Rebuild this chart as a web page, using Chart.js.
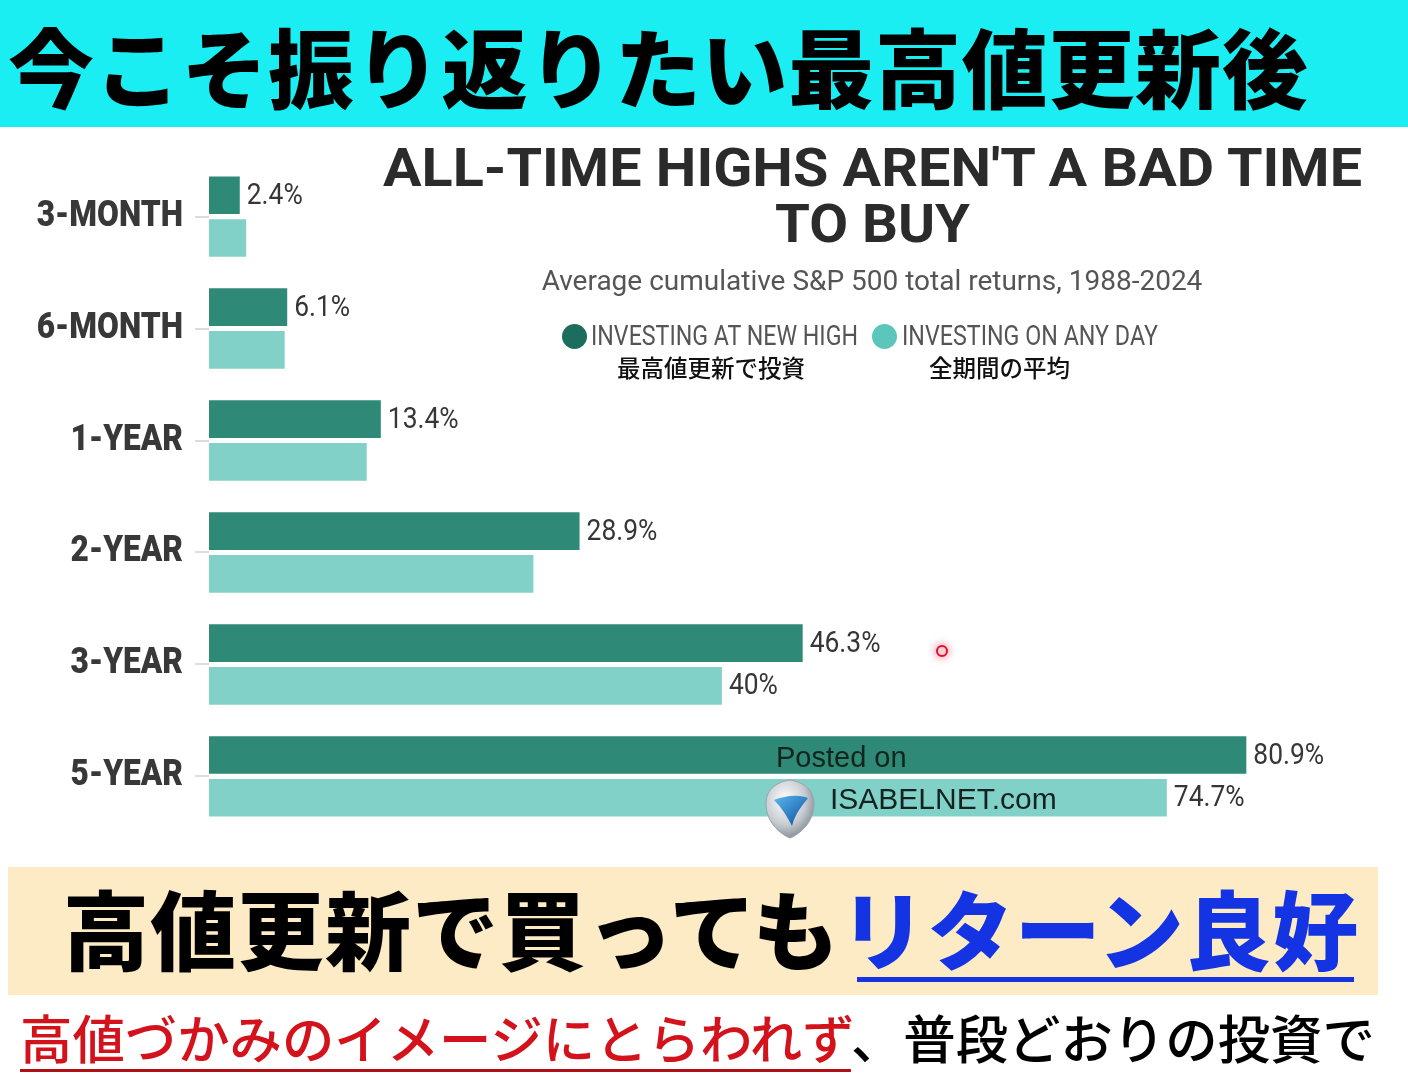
<!DOCTYPE html>
<html lang="ja">
<head>
<meta charset="utf-8">
<script src="https://cdn.jsdelivr.net/npm/chart.js@4.4.1/dist/chart.umd.min.js"></script>
<style>
  html, body { margin:0; padding:0; background:#ffffff; }
  body { width:1408px; height:1080px; position:relative; overflow:hidden; font-family:"Noto Sans CJK JP", sans-serif; }
  #topband { position:absolute; left:0; top:0; width:1408px; height:127px; background:#1aeef2; }
  #topband span { position:absolute; left:8px; top:10px; font-size:86px; font-weight:900; color:#000; line-height:110px; white-space:nowrap; letter-spacing:0.7px; }
  #chartwrap { position:absolute; left:0; top:127px; width:1408px; height:739px; }
  .ov { position:absolute; white-space:nowrap; }
  .fit { display:inline-block; transform-origin:0 50%; }
  .tline { font-family:Roboto,sans-serif; font-weight:700; font-size:53px; line-height:56px; color:#2b2b2b; }
  #subtitle { left:372px; width:1000px; top:264px; text-align:center; font-family:Roboto,sans-serif; font-size:28px; color:#555; }
  .leg { top:318px; font-family:Roboto,sans-serif; font-size:28px; color:#555; line-height:36px; }
  .dot { position:absolute; top:6px; width:25px; height:25px; border-radius:50%; }
  .jp { font-family:"Noto Sans CJK JP",sans-serif; font-weight:500; font-size:23.5px; color:#111; top:352px; line-height:30px; }
  #posted { left:776px; top:741px; font-family:"Liberation Sans",Arial,sans-serif; font-size:29px; color:#13241f; }
  #isabel { left:830px; top:782px; font-family:"Liberation Sans",Arial,sans-serif; font-size:30px; color:#13241f; }
  #logo { left:762px; top:778px; }
  #reddot { left:936px; top:645px; width:8px; height:8px; border-radius:50%; border:2px solid #e0102a; background:#ffd0d8; box-shadow:0 0 6px 3px rgba(255,120,140,0.45); }
  #beige { position:absolute; left:8px; top:867px; width:1370px; height:128px; background:#fcebc4; }
  #beigetext { position:absolute; left:55px; top:4px; font-size:86px; font-weight:900; line-height:112px; white-space:nowrap; color:#000; letter-spacing:1.3px; }
  #beigetext .blue { color:#1434e4; }
  #bline { position:absolute; left:849px; top:110px; width:497px; height:5px; background:#1434e4; }
  #bottom { position:absolute; left:20px; top:1000px; font-size:52.4px; font-weight:500; line-height:72px; white-space:nowrap; color:#000; }
  #bottom .red { color:#d3121c; text-decoration:underline; text-decoration-thickness:3px; text-underline-offset:10px; text-decoration-color:#b01018; }
</style>
</head>
<body>
<div id="topband"><span>今こそ振り返りたい最高値更新後</span></div>

<div id="chartwrap"><canvas id="c" width="1408" height="739"></canvas></div>

<div class="ov tline" id="t1" style="left:383px; top:140px;"><span class="fit" data-w="979">ALL-TIME HIGHS AREN'T A BAD TIME</span></div>
<div class="ov tline" id="t2" style="left:775px; top:196px;"><span class="fit" data-w="195">TO BUY</span></div>
<div class="ov" id="subtitle">Average cumulative S&amp;P 500 total returns, 1988-2024</div>
<div class="ov leg" style="left:562px;"><span class="dot" style="left:0; background:#1b6e5d"></span><span class="fit" id="leg1t" data-w="267" style="margin-left:29px"></span></div>
<div class="ov leg" style="left:872px;"><span class="dot" style="left:0; background:#5cc6bd"></span><span class="fit" id="leg2t" data-w="256" style="margin-left:30px"></span></div>
<div class="ov jp" id="jp1" style="left:617px;"></div>
<div class="ov jp" id="jp2" style="left:929px;"></div>

<div class="ov" id="posted">Posted on</div>
<div class="ov" id="isabel">ISABELNET.com</div>
<svg class="ov" id="logo" width="56" height="62" viewBox="0 0 56 62">
  <defs>
    <radialGradient id="sg" cx="40%" cy="35%" r="70%">
      <stop offset="0" stop-color="#ffffff"/>
      <stop offset="0.6" stop-color="#c8ccd2"/>
      <stop offset="1" stop-color="#7d8690"/>
    </radialGradient>
    <linearGradient id="bg" x1="0" y1="0" x2="1" y2="1">
      <stop offset="0" stop-color="#5ab8f0"/>
      <stop offset="1" stop-color="#0c4f9a"/>
    </linearGradient>
  </defs>
  <path d="M28 2 C40 4 52 10 52 26 C52 44 38 56 28 60 C18 56 4 44 4 26 C4 10 16 4 28 2 Z" fill="url(#sg)" stroke="#9aa2ab" stroke-width="1"/>
  <path d="M12 22 C22 18 36 16 46 20 C40 28 34 34 30 48 C26 40 20 30 12 22 Z" fill="url(#bg)"/>
</svg>
<div class="ov" id="reddot"></div>

<div id="beige"><div id="beigetext">高値更新で買っても<span class="blue">リターン良好</span></div><div id="bline"></div></div>
<div id="bottom"><span class="red">高値づかみのイメージにとらわれず</span>、普段どおりの投資で</div>

<script>
// ---- data ----
const categories = ['3-MONTH', '6-MONTH', '1-YEAR', '2-YEAR', '3-YEAR', '5-YEAR'];
const seriesNames = ['INVESTING AT NEW HIGH', 'INVESTING ON ANY DAY'];
const seriesNamesJa = ['最高値更新で投資', '全期間の平均'];
const newHighValues = [2.4, 6.1, 13.4, 28.9, 46.3, 80.9];
const anyDayValues = [2.9, 5.9, 12.3, 25.3, 40.0, 74.7];
const newHighLabels = ['2.4%', '6.1%', '13.4%', '28.9%', '46.3%', '80.9%'];
const anyDayLabels = [null, null, null, null, '40%', '74.7%'];

document.getElementById('leg1t').textContent = seriesNames[0];
document.getElementById('leg2t').textContent = seriesNames[1];
document.getElementById('jp1').textContent = seriesNamesJa[0];
document.getElementById('jp2').textContent = seriesNamesJa[1];

// condense overlay text to the reference widths
document.querySelectorAll('.fit').forEach(el => {
  const w = el.getBoundingClientRect().width;
  const target = parseFloat(el.dataset.w);
  if (w > 0) el.style.transform = 'scaleX(' + (target / w) + ')';
});

const labelSets = [newHighLabels, anyDayLabels];
const LABEL_SQUEEZE = 0.88;
const TICK_SQUEEZE = 0.88;

const valueLabels = {
  id: 'valueLabels',
  afterDatasetsDraw(chart) {
    const ctx = chart.ctx;
    ctx.save();
    ctx.font = '30px Roboto, sans-serif';
    ctx.fillStyle = '#363636';
    ctx.textAlign = 'left';
    ctx.textBaseline = 'middle';
    chart.data.datasets.forEach((ds, i) => {
      const meta = chart.getDatasetMeta(i);
      meta.data.forEach((bar, j) => {
        const t = labelSets[i][j];
        if (!t) return;
        const x0 = bar.x + 7;
        ctx.save();
        ctx.translate(x0, 0);
        ctx.scale(LABEL_SQUEEZE, 1);
        ctx.fillText(t, 0, bar.y + 1);
        ctx.restore();
      });
    });
    ctx.restore();
  }
};

new Chart(document.getElementById('c'), {
  type: 'bar',
  data: {
    labels: categories,
    datasets: [
      { label: seriesNames[0], data: newHighValues, backgroundColor: '#2e8a76',
        categoryPercentage: 0.764, barPercentage: 0.88 },
      { label: seriesNames[1], data: anyDayValues, backgroundColor: '#82d1c9',
        categoryPercentage: 0.764, barPercentage: 0.88 }
    ]
  },
  options: {
    indexAxis: 'y',
    responsive: false,
    animation: false,
    devicePixelRatio: 1,
    layout: { padding: { top: 31, bottom: 32, left: 0, right: 45 } },
    plugins: { legend: { display: false }, title: { display: false }, tooltip: { enabled: false } },
    scales: {
      x: { display: false, min: 0, max: 90 },
      y: {
        afterFit(scale) { scale.width = 209; },
        afterUpdate(scale) {
          if (scale._squeezed) return;
          const orig = scale.drawLabels.bind(scale);
          scale.drawLabels = function (area) {
            const ctx = this.ctx;
            const x0 = this.right - 14 - 12;
            ctx.save();
            ctx.translate(x0, 0);
            ctx.scale(TICK_SQUEEZE, 1);
            ctx.translate(-x0, 0);
            orig(area);
            ctx.restore();
          };
          scale._squeezed = true;
        },
        border: { display: false },
        grid: { offset: false, drawOnChartArea: false, tickLength: 14, color: '#dcdcdc', lineWidth: 2 },
        ticks: { padding: 12, color: '#383838', font: { family: 'Roboto, sans-serif', size: 36, weight: '900' } }
      }
    }
  },
  plugins: [valueLabels]
});
</script>
</body>
</html>
